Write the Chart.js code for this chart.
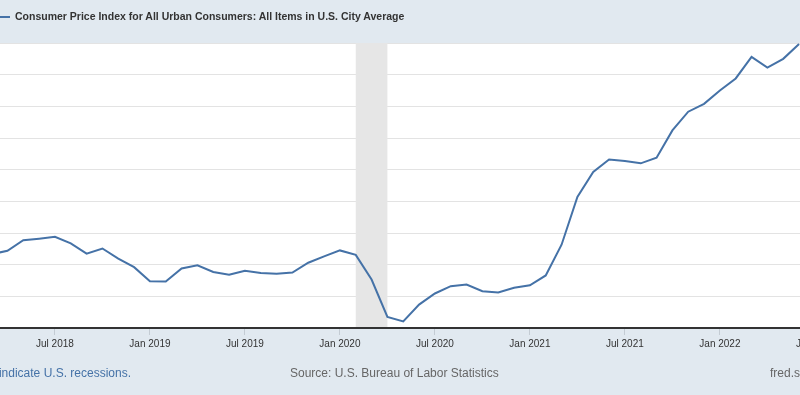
<!DOCTYPE html>
<html>
<head>
<meta charset="utf-8">
<script src="https://cdn.jsdelivr.net/npm/chart.js@4.4.1/dist/chart.umd.min.js"></script>
<style>
  html, body { margin: 0; padding: 0; }
  body {
    width: 800px; height: 395px; position: relative; overflow: hidden;
    background: #e1e9f0;
    font-family: "Liberation Sans", Arial, sans-serif;
  }
  #chartBox { position: absolute; left: 0; top: 0; width: 800px; height: 395px; }
  .legend {
    position: absolute; left: 0; top: 10px; white-space: nowrap;
    font-size: 10.5px; font-weight: bold; color: #333;
  }
  .legend .swatch {
    display: inline-block; width: 10px; height: 2px; background: #4572a7;
    vertical-align: middle; margin-right: 5px;
  }
  .foot { position: absolute; top: 366px; font-size: 12px; white-space: nowrap; color: #666; }
  .foot.note { right: 669px; color: #4572a7; }
  .foot.source { left: 290px; }
  .foot.site { left: 770px; }
</style>
</head>
<body>
<div id="chartBox"><canvas id="myChart"></canvas></div>
<div class="legend"><span class="swatch"></span>Consumer Price Index for All Urban Consumers: All Items in U.S. City Average</div>
<div class="foot note">Shaded areas indicate U.S. recessions.</div>
<div class="foot source">Source: U.S. Bureau of Labor Statistics</div>
<div class="foot site">fred.stlouisfed.org</div>

<script>
// months shown (Mar 2018 .. Jun 2022)
const months = [
    '2018-03', '2018-04', '2018-05', '2018-06', '2018-07', '2018-08', '2018-09', '2018-10', '2018-11', '2018-12',
    '2019-01', '2019-02', '2019-03', '2019-04', '2019-05', '2019-06', '2019-07', '2019-08', '2019-09', '2019-10', '2019-11', '2019-12',
    '2020-01', '2020-02', '2020-03', '2020-04', '2020-05', '2020-06', '2020-07', '2020-08', '2020-09', '2020-10', '2020-11', '2020-12',
    '2021-01', '2021-02', '2021-03', '2021-04', '2021-05', '2021-06', '2021-07', '2021-08', '2021-09', '2021-10', '2021-11', '2021-12',
    '2022-01', '2022-02', '2022-03', '2022-04', '2022-05', '2022-06'
];

// percent change from a year ago
const cpiChange = [
    2.33, 2.44, 2.77, 2.82, 2.88, 2.67, 2.35, 2.51, 2.19, 1.92,
    1.48, 1.47, 1.88, 1.98, 1.77, 1.68, 1.81, 1.74, 1.71, 1.75, 2.06, 2.26,
    2.45, 2.31, 1.53, 0.35, 0.21, 0.74, 1.09, 1.32, 1.37, 1.16, 1.12, 1.27,
    1.35, 1.66, 2.63, 4.14, 4.93, 5.32, 5.27, 5.20, 5.38, 6.24, 6.83, 7.08,
    7.50, 7.88, 8.56, 8.22, 8.50, 8.97
];

const tickMonths = ['2018-07', '2019-01', '2019-07', '2020-01', '2020-07', '2021-01', '2021-07', '2022-01', '2022-07'];
const tickLabels = ['Jul 2018', 'Jan 2019', 'Jul 2019', 'Jan 2020', 'Jul 2020', 'Jan 2021', 'Jul 2021', 'Jan 2022', 'Jul 2022'];

const recessionStart = '2020-02';
const recessionEnd = '2020-04';

// visible window (the picture is cropped on both sides)
const viewMin = 0.53;
const viewMax = 51.06;

function monthIndex(str) {
    let parts = str.split('-');
    return (parseInt(parts[0]) - 2018) * 12 + (parseInt(parts[1]) - 3);
}

const plotBackground = {
    id: 'plotBackground',
    beforeDraw(chart) {
        const {ctx, chartArea} = chart;
        ctx.save();
        ctx.fillStyle = '#ffffff';
        ctx.fillRect(chartArea.left, chartArea.top, chartArea.width, chartArea.height);
        ctx.restore();
    }
};

const recessionShade = {
    id: 'recessionShade',
    beforeDatasetsDraw(chart) {
        const {ctx, chartArea} = chart;
        const xScale = chart.scales.x;
        const x0 = xScale.getPixelForValue(monthIndex(recessionStart));
        const x1 = xScale.getPixelForValue(monthIndex(recessionEnd));
        ctx.save();
        ctx.fillStyle = '#e6e6e6';
        ctx.fillRect(x0, chartArea.top, x1 - x0, chartArea.height - 1);
        ctx.restore();
    }
};

const ctx = document.getElementById('myChart');

const data = {
    datasets: [{
        label: 'Consumer Price Index for All Urban Consumers: All Items in U.S. City Average',
        data: cpiChange.map((v, i) => ({x: monthIndex(months[i]), y: v})),
        borderColor: '#4572a7',
        borderWidth: 2,
        pointRadius: 0,
        tension: 0,
        fill: false
    }]
};

new Chart(ctx, {
    type: 'line',
    data: data,
    plugins: [plotBackground, recessionShade],
    options: {
        responsive: true,
        maintainAspectRatio: false,
        animation: false,
        layout: {
            autoPadding: false,
            padding: {top: 43, bottom: 42, left: 0, right: 0}
        },
        plugins: {
            legend: {display: false},
            tooltip: {enabled: false}
        },
        scales: {
            x: {
                type: 'linear',
                min: viewMin,
                max: viewMax,
                afterBuildTicks: (scale) => {
                    scale.ticks = tickMonths.map(m => ({value: monthIndex(m)}));
                },
                // the last label runs off the edge, don't let it shrink the plot
                afterFit: (scale) => {
                    scale.paddingLeft = 0;
                    scale.paddingRight = 0;
                },
                ticks: {
                    autoSkip: false,
                    maxRotation: 0,
                    padding: 3,
                    color: '#333',
                    font: {family: '"Liberation Sans", Arial, sans-serif', size: 10},
                    callback: (value, index) => tickLabels[index]
                },
                grid: {
                    drawOnChartArea: false,
                    tickLength: 7,
                    color: '#c4ccd4'
                },
                border: {color: '#333', width: 2}
            },
            y: {
                min: 0,
                max: 9,
                ticks: {display: false, stepSize: 1},
                grid: {color: '#e3e3e3', drawTicks: false},
                border: {display: false}
            }
        }
    }
});
</script>
</body>
</html>
